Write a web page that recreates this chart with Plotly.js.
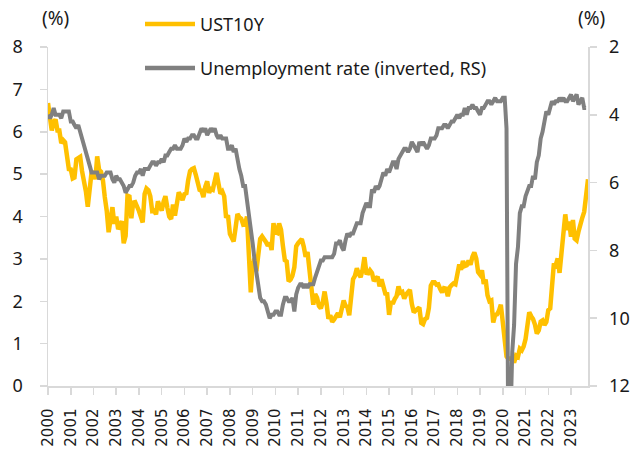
<!DOCTYPE html>
<html>
<head>
<meta charset="utf-8">
<script src="https://cdn.plot.ly/plotly-3.0.1.min.js"></script>
<style>html,body{margin:0;padding:0;background:#fff;}#chart{width:634px;height:451px;}</style>
</head>
<body>
<div id="chart"></div>
<script>
// Monthly data, first month = Jan 2000
var startYear = 2000;
var ust10y = [
6.68,6.42,6.03,6.23,6.29,6.03,6.03,5.73,5.80,5.75,5.48,5.12,
5.11,4.90,4.92,5.35,5.38,5.41,5.07,4.84,4.59,4.23,4.75,5.05,
5.03,4.88,5.42,5.10,5.06,4.86,4.46,4.14,3.63,3.91,4.22,3.83,
4.00,3.70,3.83,3.89,3.37,3.54,4.49,4.47,3.96,4.33,4.34,4.25,
4.13,3.99,3.86,4.53,4.66,4.62,4.48,4.13,4.14,4.05,4.36,4.24,
4.14,4.36,4.48,4.21,4.00,3.94,4.28,4.02,4.33,4.57,4.49,4.39,
4.53,4.55,4.85,5.07,5.12,5.14,4.99,4.74,4.63,4.61,4.46,4.70,
4.83,4.56,4.65,4.63,4.89,5.03,4.78,4.54,4.59,4.48,3.97,4.03,
3.59,3.51,3.41,3.73,4.06,3.98,3.95,3.81,3.83,4.00,2.93,2.21,
2.87,3.02,2.71,3.16,3.47,3.53,3.48,3.40,3.31,3.38,3.21,3.84,
3.63,3.61,3.84,3.69,3.31,2.97,2.94,2.47,2.51,2.60,2.80,3.30,
3.37,3.42,3.47,3.29,3.05,3.16,2.80,2.23,1.92,2.17,2.08,1.89,
1.83,1.98,2.23,1.95,1.59,1.67,1.51,1.57,1.65,1.72,1.62,1.78,
2.02,1.89,1.87,1.67,2.16,2.52,2.60,2.78,2.64,2.57,2.75,3.04,
2.67,2.66,2.73,2.67,2.48,2.53,2.58,2.35,2.52,2.35,2.18,2.17,
1.68,2.00,1.94,2.05,2.12,2.35,2.20,2.22,2.06,2.16,2.21,2.27,
1.94,1.74,1.78,1.83,1.85,1.49,1.46,1.58,1.61,1.84,2.37,2.45,
2.45,2.39,2.40,2.29,2.21,2.31,2.30,2.12,2.33,2.38,2.42,2.40,
2.72,2.87,2.74,2.95,2.83,2.85,2.96,2.86,3.05,3.15,3.01,2.69,
2.63,2.73,2.41,2.51,2.14,2.00,2.02,1.50,1.68,1.69,1.78,1.92,
1.51,1.13,0.70,0.64,0.65,0.66,0.55,0.72,0.69,0.88,0.84,0.93,
1.11,1.44,1.74,1.65,1.58,1.45,1.24,1.31,1.52,1.55,1.44,1.51,
1.79,1.83,2.32,2.89,2.85,3.01,2.67,3.19,3.83,4.05,3.68,3.88,
3.52,3.92,3.48,3.44,3.64,3.84,3.97,4.11,4.59,4.88
];
var unemployment = [
4.0,4.1,4.0,3.8,4.0,4.0,4.0,4.1,3.9,3.9,3.9,3.9,
4.2,4.2,4.3,4.4,4.3,4.5,4.6,4.9,5.0,5.3,5.5,5.7,
5.7,5.7,5.7,5.9,5.8,5.8,5.8,5.7,5.7,5.7,5.9,6.0,
5.8,5.9,5.9,6.0,6.1,6.3,6.2,6.1,6.1,6.0,5.8,5.7,
5.7,5.6,5.8,5.6,5.6,5.6,5.5,5.4,5.4,5.5,5.4,5.4,
5.3,5.4,5.2,5.2,5.1,5.0,5.0,4.9,5.0,5.0,5.0,4.9,
4.7,4.8,4.7,4.7,4.6,4.6,4.7,4.7,4.5,4.4,4.5,4.4,
4.6,4.5,4.4,4.5,4.4,4.6,4.7,4.6,4.7,4.7,4.7,5.0,
5.0,4.9,5.1,5.0,5.4,5.6,5.8,6.1,6.1,6.5,6.8,7.3,
7.8,8.3,8.7,9.0,9.4,9.5,9.5,9.6,9.8,10.0,9.9,9.9,
9.8,9.8,9.9,9.9,9.6,9.4,9.4,9.5,9.5,9.4,9.8,9.3,
9.1,9.0,9.0,9.1,9.0,9.1,9.0,9.0,9.0,8.8,8.6,8.5,
8.3,8.3,8.2,8.2,8.2,8.2,8.2,8.1,7.8,7.8,7.7,7.9,
8.0,7.7,7.5,7.6,7.5,7.5,7.3,7.2,7.2,7.2,6.9,6.7,
6.6,6.7,6.7,6.2,6.3,6.1,6.2,6.1,5.9,5.7,5.8,5.6,
5.7,5.5,5.4,5.4,5.6,5.3,5.2,5.1,5.0,5.0,5.1,5.0,
4.8,4.9,5.0,5.1,4.8,4.9,4.8,4.9,5.0,4.9,4.7,4.7,
4.7,4.6,4.4,4.4,4.4,4.3,4.3,4.4,4.3,4.2,4.2,4.1,
4.0,4.1,4.0,4.0,3.8,4.0,3.8,3.8,3.7,3.8,3.8,3.9,
4.0,3.8,3.8,3.7,3.6,3.6,3.7,3.6,3.5,3.6,3.6,3.6,
3.5,3.5,4.4,14.7,13.2,11.0,10.2,8.4,7.9,6.9,6.7,6.7,
6.4,6.2,6.1,6.1,5.8,5.9,5.4,5.2,4.7,4.5,4.2,3.9,
4.0,3.8,3.6,3.7,3.6,3.6,3.5,3.6,3.5,3.6,3.6,3.5,
3.4,3.6,3.5,3.4,3.7,3.6,3.5,3.8,3.8
];
var tickYears = [];
for (var yr = 2000; yr <= 2023; yr++) tickYears.push(yr);
var leftTicks = [0,1,2,3,4,5,6,7,8];
var rightTicks = [2,4,6,8,10,12];
var seriesNames = ['UST10Y', 'Unemployment rate (inverted, RS)'];

function monthDates(n) {
  var out = [];
  for (var i = 0; i < n; i++) {
    var y = startYear + Math.floor(i / 12);
    var m = (i % 12) + 1;
    out.push(y + '-' + (m < 10 ? '0' + m : m) + '-01');
  }
  return out;
}

var ORANGE = '#FFC000', GREY = '#808080', AXIS = '#D9D9D9', TXT = '#1a1a1a';
var FONT = 'Noto Sans, sans-serif';

var traces = [
  {x: monthDates(unemployment.length), y: unemployment, yaxis: 'y2', type: 'scatter', mode: 'lines',
   name: seriesNames[1], line: {color: GREY, width: 4}, hoverinfo: 'skip'},
  {x: monthDates(ust10y.length), y: ust10y, yaxis: 'y', type: 'scatter', mode: 'lines',
   name: seriesNames[0], line: {color: ORANGE, width: 4.5}, hoverinfo: 'skip'}
];

var L = 48, R = 588, T = 47, B = 386;
function px(xp) { return (xp - L) / (R - L); }
function py(yp) { return (B - yp) / (B - T); }

var layout = {
  width: 634, height: 451,
  margin: {l: L, r: 634 - R, t: T, b: 451 - B, pad: 0},
  paper_bgcolor: '#fff', plot_bgcolor: '#fff',
  showlegend: false,
  font: {family: FONT, color: TXT, size: 17},
  xaxis: {
    type: 'date', range: ['2000-01-01', '2023-10-01'],
    tickvals: tickYears.map(function (y) { return y + '-01-01'; }),
    ticktext: tickYears.map(String),
    tickangle: -90, tickfont: {size: 15, family: 'DejaVu Sans, sans-serif', color: TXT},
    ticklabelstandoff: 8,
    showgrid: false, zeroline: false,
    showline: true, linecolor: AXIS, linewidth: 1.5,
    ticks: 'outside', ticklen: 7, tickcolor: AXIS, tickwidth: 1.5
  },
  yaxis: {
    range: [0, 8], tickvals: leftTicks, showgrid: false, zeroline: false,
    showline: true, linecolor: AXIS, linewidth: 1.5,
    ticks: 'outside', ticklen: 7, tickcolor: AXIS, tickwidth: 1.5,
    tickfont: {size: 18, family: FONT, color: TXT}, ticklabelstandoff: 13
  },
  yaxis2: {
    overlaying: 'y', side: 'right', range: [12, 2], tickvals: rightTicks,
    showgrid: false, zeroline: false,
    showline: true, linecolor: AXIS, linewidth: 1.5,
    ticks: 'outside', ticklen: 7, tickcolor: AXIS, tickwidth: 1.5,
    tickfont: {size: 18, family: FONT, color: TXT}, ticklabelstandoff: 9
  },
  shapes: [
    {type: 'line', xref: 'paper', yref: 'paper', x0: px(145), x1: px(195), y0: py(24), y1: py(24),
     line: {color: ORANGE, width: 4.5}},
    {type: 'line', xref: 'paper', yref: 'paper', x0: px(145), x1: px(195), y0: py(68), y1: py(68),
     line: {color: GREY, width: 4.5}}
  ],
  annotations: [
    {xref: 'paper', yref: 'paper', x: px(198), y: py(24), xanchor: 'left', yanchor: 'middle',
     text: seriesNames[0], showarrow: false, font: {size: 18, family: FONT, color: TXT}},
    {xref: 'paper', yref: 'paper', x: px(198), y: py(68), xanchor: 'left', yanchor: 'middle',
     text: seriesNames[1], showarrow: false, font: {size: 18, family: FONT, color: TXT}},
    {xref: 'paper', yref: 'paper', x: px(55), y: py(18), xanchor: 'center', yanchor: 'middle',
     text: '(%)', showarrow: false, font: {size: 19, family: FONT, color: TXT}},
    {xref: 'paper', yref: 'paper', x: px(591), y: py(18), xanchor: 'center', yanchor: 'middle',
     text: '(%)', showarrow: false, font: {size: 19, family: FONT, color: TXT}}
  ]
};

Plotly.newPlot('chart', traces, layout, {staticPlot: true, displayModeBar: false});
</script>
</body>
</html>
